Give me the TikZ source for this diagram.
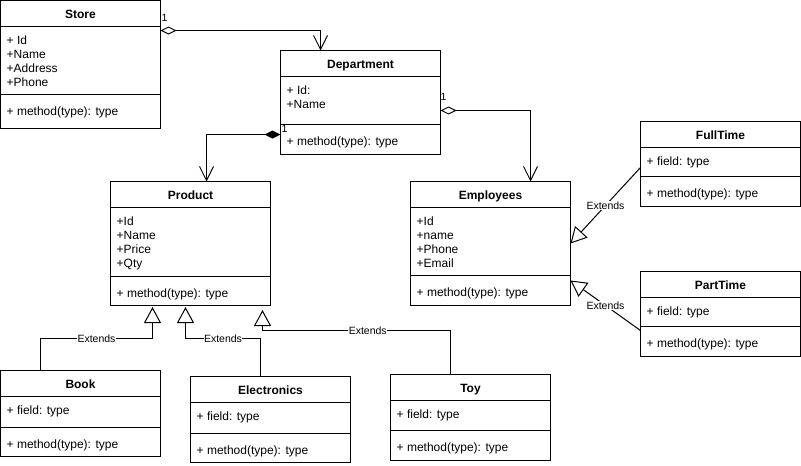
\documentclass[tikz,border=0pt]{standalone}
\usepackage{fontspec}
\setmainfont{Liberation Sans}
\usetikzlibrary{arrows.meta,calc}
\tikzset{
  classbox/.style={draw, line width=1pt, minimum width=160pt, anchor=north west, inner sep=0pt, outer sep=0pt},
  sepline/.style={line width=1pt},
  ctitle/.style={font=\bfseries\fontsize{12}{14}\selectfont, anchor=base, inner sep=0pt},
  cattr/.style={font=\fontsize{12}{14}\selectfont, anchor=base west, inner sep=0pt},
  conn/.style={line width=1pt},
  agg/.style={conn, {Diamond[open,length=16pt,width=8pt]}-{Straight Barb[length=14pt,width=14pt]}},
  comp/.style={conn, {Diamond[length=16pt,width=8pt]}-{Straight Barb[length=14pt,width=14pt]}},
  ext/.style={conn, -{Triangle[open,length=16pt,width=17pt]}},
  extlbl/.style={font=\fontsize{10.5}{12}\selectfont, fill=white, inner sep=0.5pt},
  numlbl/.style={font=\fontsize{10.5}{12}\selectfont, inner sep=0pt},
}
% #1 name, #2 left x, #3 top y, #4 bottom y, #5 separator y, #6 title, #7 attributes
\newcommand{\umlclass}[7]{%
  \pgfmathsetmacro{\clsh}{#4-#3}%
  \node[classbox, minimum height=\clsh pt] (#1) at (#2,#3) {};
  \draw[sepline] (#2,#3+26) -- (#2+160,#3+26);
  \draw[sepline] (#2,#5) -- (#2+160,#5);
  \node[ctitle] (#1-title) at (#2+80,#3+17.5) {#6};
  \foreach \t [count=\i] in {#7} {\node[cattr] (#1-a\i) at (#2+6,#3+26+14*\i+3.6) {\t};}
  \node[cattr] (#1-m) at (#2+6,#5+21) {+ method(type): type};
}
\begin{document}
\begin{tikzpicture}[x=1pt,y=-1pt]
\useasboundingbox (-0.5,-0.5) rectangle (800.5,465.5);

\umlclass{Store}{0}{0}{128}{94}{Store}{+ Id,+Name,+Address,+Phone}
\umlclass{Department}{280}{50}{154}{124}{Department}{+ Id:,+Name}
\umlclass{Product}{110}{181}{305}{276}{Product}{+Id,+Name,+Price,+Qty}
\umlclass{Employees}{410}{181}{305}{275}{Employees}{+Id,+name,+Phone,+Email}
\umlclass{FullTime}{640}{121}{206}{176}{FullTime}{+ field: type}
\umlclass{PartTime}{640}{271}{356}{326}{PartTime}{+ field: type}
\umlclass{Book}{0}{370}{456}{427}{Book}{+ field: type}
\umlclass{Electronics}{190}{376}{462}{433}{Electronics}{+ field: type}
\umlclass{Toy}{390}{374}{460}{430}{Toy}{+ field: type}

% associations
\draw[agg] (Store.east |- 0,30) -| ($(Department.north west)+(40,0)$)
  node[numlbl, pos=0, anchor=center, xshift=4pt, yshift=13pt] (n1) {1};
\draw[comp] (Department.west |- 0,134) -| ($(Product.north west)+(96,0)$)
  node[numlbl, pos=0, anchor=center, xshift=4pt, yshift=6pt] (n2) {1};
\draw[agg] (Department.east |- 0,110) -| ($(Employees.north west)+(120,0)$)
  node[numlbl, pos=0, anchor=center, xshift=3pt, yshift=14pt] (n3) {1};

% generalizations
\draw[ext] (FullTime.west |- 0,167) -- node[extlbl] (e1) {Extends} (Employees.east |- 0,243);
\draw[ext] (PartTime.west |- 0,330) -- node[extlbl] (e2) {Extends} (Employees.east |- 0,280);
\draw[ext] ($(Book.north west)+(40,0)$) |- node[extlbl, pos=0.75] (e3) {Extends} ($(Product.south west)+(42,33)$) -- ($(Product.south west)+(42,1.5)$);
\draw[ext] ($(Electronics.north west)+(70,0)$) |- node[extlbl, pos=0.75] (e4) {Extends} ($(Product.south west)+(75,33)$) -- ($(Product.south west)+(75,1.5)$);
\draw[ext] ($(Toy.north west)+(60,0)$) |- node[extlbl, pos=0.72] (e5) {Extends} ($(Product.south west)+(152,25)$) -- ($(Product.south west)+(152,4.5)$);
\end{tikzpicture}
\end{document}
